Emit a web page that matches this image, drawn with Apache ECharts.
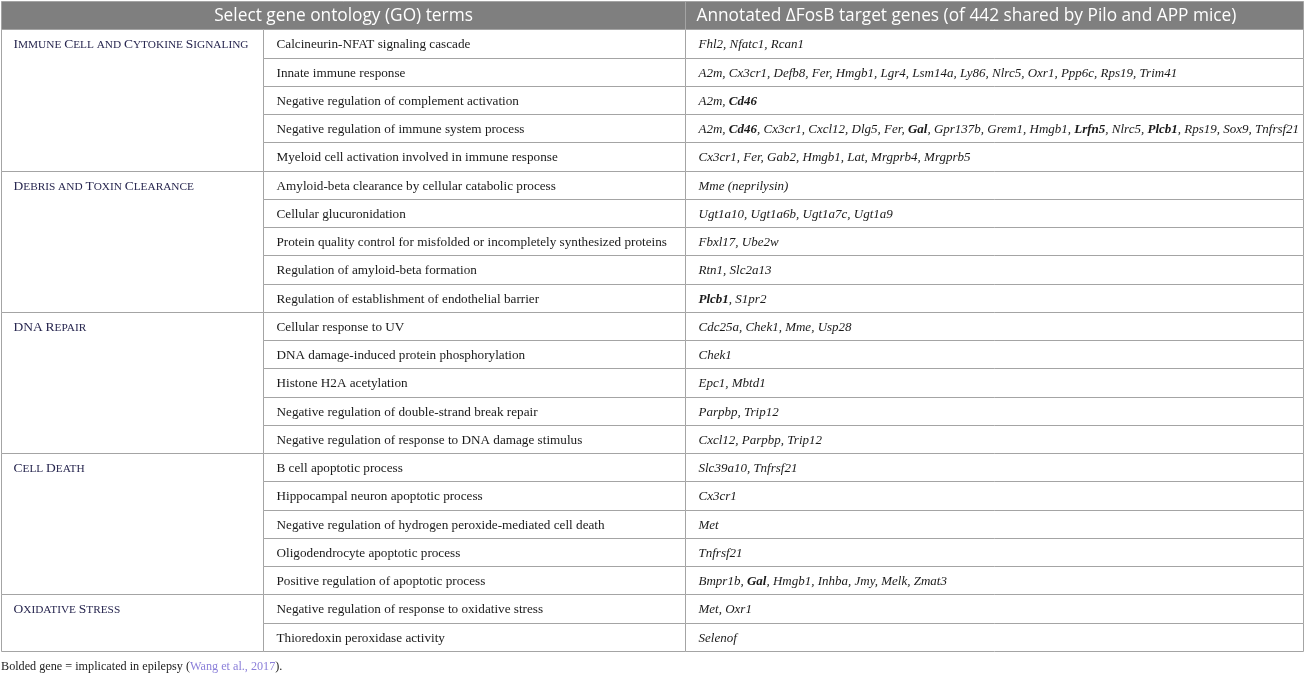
<!DOCTYPE html>
<html>
<head>
<meta charset="utf-8">
<script src="https://cdn.jsdelivr.net/npm/echarts@6/dist/echarts.min.js"></script>
<style>
  html, body { margin: 0; padding: 0; background: #fff; }
  #main { width: 1307px; height: 675px; }
</style>
</head>
<body>
<div id="main"></div>
<script>
// table content
var headers = [ 'Select gene ontology (GO) terms',
		'Annotated \u0394FosB target genes (of 442 shared by Pilo and APP mice)' ];
var categories = [ 'Immune Cell and Cytokine Signaling', 'Debris and Toxin Clearance',
		'DNA Repair', 'Cell Death', 'Oxidative Stress' ];
var categorySpans = [ 5, 5, 5, 5, 2 ];
var goTerms = [ 'Calcineurin-NFAT signaling cascade', 'Innate immune response',
		'Negative regulation of complement activation',
		'Negative regulation of immune system process',
		'Myeloid cell activation involved in immune response',
		'Amyloid-beta clearance by cellular catabolic process',
		'Cellular glucuronidation',
		'Protein quality control for misfolded or incompletely synthesized proteins',
		'Regulation of amyloid-beta formation',
		'Regulation of establishment of endothelial barrier',
		'Cellular response to UV', 'DNA damage-induced protein phosphorylation',
		'Histone H2A acetylation',
		'Negative regulation of double-strand break repair',
		'Negative regulation of response to DNA damage stimulus',
		'B cell apoptotic process', 'Hippocampal neuron apoptotic process',
		'Negative regulation of hydrogen peroxide-mediated cell death',
		'Oligodendrocyte apoptotic process',
		'Positive regulation of apoptotic process',
		'Negative regulation of response to oxidative stress',
		'Thioredoxin peroxidase activity' ];
var targetGenes = [
	[ 'Fhl2', 'Nfatc1', 'Rcan1' ],
	[ 'A2m', 'Cx3cr1', 'Defb8', 'Fer', 'Hmgb1', 'Lgr4', 'Lsm14a', 'Ly86', 'Nlrc5', 'Oxr1', 'Ppp6c', 'Rps19', 'Trim41' ],
	[ 'A2m', 'Cd46' ],
	[ 'A2m', 'Cd46', 'Cx3cr1', 'Cxcl12', 'Dlg5', 'Fer', 'Gal', 'Gpr137b', 'Grem1', 'Hmgb1', 'Lrfn5', 'Nlrc5', 'Plcb1', 'Rps19', 'Sox9', 'Tnfrsf21' ],
	[ 'Cx3cr1', 'Fer', 'Gab2', 'Hmgb1', 'Lat', 'Mrgprb4', 'Mrgprb5' ],
	[ 'Mme (neprilysin)' ],
	[ 'Ugt1a10', 'Ugt1a6b', 'Ugt1a7c', 'Ugt1a9' ],
	[ 'Fbxl17', 'Ube2w' ],
	[ 'Rtn1', 'Slc2a13' ],
	[ 'Plcb1', 'S1pr2' ],
	[ 'Cdc25a', 'Chek1', 'Mme', 'Usp28' ],
	[ 'Chek1' ],
	[ 'Epc1', 'Mbtd1' ],
	[ 'Parpbp', 'Trip12' ],
	[ 'Cxcl12', 'Parpbp', 'Trip12' ],
	[ 'Slc39a10', 'Tnfrsf21' ],
	[ 'Cx3cr1' ],
	[ 'Met' ],
	[ 'Tnfrsf21' ],
	[ 'Bmpr1b', 'Gal', 'Hmgb1', 'Inhba', 'Jmy', 'Melk', 'Zmat3' ],
	[ 'Met', 'Oxr1' ],
	[ 'Selenof' ] ];
var epilepsyGenes = [ 'Cd46', 'Gal', 'Lrfn5', 'Plcb1' ];
var footnote = 'Bolded gene = implicated in epilepsy';
var footnoteRef = 'Wang et al., 2017';

// layout (axis units)
var colEdges = [ 0, 262, 684, 1302 ];
var PAD = 13;
var LINE = '#a4a4a4';
var SERIF = '"Liberation Serif", "DejaVu Serif", serif';
var CAT_COLOR = '#27264f';

function smallCaps(s) {
	return s.replace(/([A-Z]+)|([^A-Z]+)/g, function(m, up, low) {
		return up ? '{c|' + up + '}' : '{s|' + low.toUpperCase() + '}';
	});
}
function geneText(list) {
	return list.map(function(g) {
		return epilepsyGenes.indexOf(g) >= 0 ? '{b|' + g + '}' : g;
	}).join(', ');
}

// cells: [x0, x1, y0, y1, kind, index]
var cells = [];
cells.push([ colEdges[0], colEdges[2], 0, 1, 0, 0 ]);
cells.push([ colEdges[2], colEdges[3], 0, 1, 0, 1 ]);
var r = 1;
categories.forEach(function(c, i) {
	cells.push([ colEdges[0], colEdges[1], r, r + categorySpans[i], 1, i ]);
	r += categorySpans[i];
});
goTerms.forEach(function(t, i) {
	cells.push([ colEdges[1], colEdges[2], i + 1, i + 2, 2, i ]);
	cells.push([ colEdges[2], colEdges[3], i + 1, i + 2, 3, i ]);
});

function renderCell(params, api) {
	var p0 = api.coord([ api.value(0), api.value(2) ]);
	var p1 = api.coord([ api.value(1), api.value(3) ]);
	var kind = api.value(4), idx = api.value(5);
	var x0 = Math.round(p0[0]) + 0.5, y0 = Math.round(p0[1]) + 0.5;
	var x1 = Math.round(p1[0]) + 0.5, y1 = Math.round(p1[1]) + 0.5;
	var rowH = api.size([ 0, 1 ])[1];
	var rect = {
		type : 'rect',
		shape : { x : x0, y : y0, width : x1 - x0, height : y1 - y0 },
		style : { fill : kind === 0 ? '#7f7f7f' : '#fff', stroke : LINE, lineWidth : 1 }
	};
	var text;
	if (kind === 0) {
		text = { type : 'text', style : {
			text : headers[idx], x : idx === 0 ? (x0 + x1) / 2 : x0 + 11, y : (y0 + y1) / 2 + 1,
			align : idx === 0 ? 'center' : 'left', verticalAlign : 'middle', fill : '#fff',
			font : '17.3px "Open Sans", "Noto Sans", sans-serif' } };
	} else if (kind === 1) {
		text = { type : 'text', style : {
			text : smallCaps(categories[idx]), x : x0 + PAD - 1, y : y0 + rowH / 2 + 1,
			verticalAlign : 'middle', fill : CAT_COLOR, font : '13.5px ' + SERIF,
			rich : {
				c : { fontFamily : SERIF, fontSize : 13.5, color : CAT_COLOR },
				s : { fontFamily : SERIF, fontSize : 11.3, color : CAT_COLOR }
			} } };
	} else if (kind === 2) {
		text = { type : 'text', style : {
			text : goTerms[idx], x : x0 + PAD, y : (y0 + y1) / 2 + 1,
			verticalAlign : 'middle', fill : '#1a1a1a', font : '13.2px ' + SERIF } };
	} else {
		text = { type : 'text', style : {
			text : geneText(targetGenes[idx]), x : x0 + PAD, y : (y0 + y1) / 2 + 1,
			verticalAlign : 'middle', fill : '#1a1a1a', font : 'italic 13px ' + SERIF,
			rich : {
				b : { fontFamily : SERIF, fontSize : 13, fontStyle : 'italic', fontWeight : 'bold', color : '#1a1a1a' }
			} } };
	}
	return { type : 'group', children : [ rect, text ] };
}

var myChart = echarts.init(document.getElementById('main'));
var option = {
	animation : false,
	title : {
		text : footnote + ' ({l|' + footnoteRef + '}).',
		left : -4,
		top : 656,
		textStyle : {
			fontFamily : SERIF,
			fontSize : 12.2,
			fontWeight : 'normal',
			color : '#222',
			rich : { l : { fontFamily : SERIF, fontSize : 12.2, color : '#8b7fd9' } }
		}
	},
	grid : { left : 1, top : 1, width : 1302, height : 650 },
	xAxis : { type : 'value', min : 0, max : colEdges[3], show : false },
	yAxis : { type : 'value', min : 0, max : 1 + goTerms.length, inverse : true, show : false },
	series : [ {
		type : 'custom',
		renderItem : renderCell,
		data : cells,
		clip : false
	} ]
};
myChart.setOption(option);
</script>
</body>
</html>
